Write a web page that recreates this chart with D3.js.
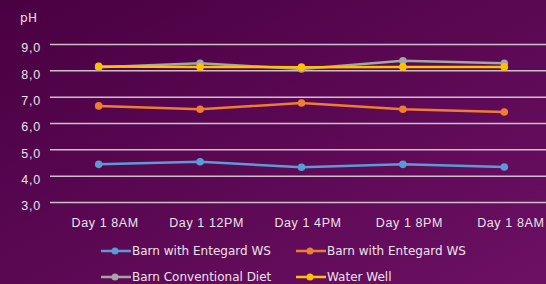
<!DOCTYPE html>
<html lang="en">
<head>
  <meta charset="UTF-8">
  <title>pH</title>
  <style>
    html, body { margin: 0; padding: 0; background: #4d0045; }
    svg { display: block; font-family: "DejaVu Sans", sans-serif; }
  </style>
</head>
<body>
  <script src="https://d3js.org/d3.v7.min.js"></script>
  <script>
    const categories = ['Day 1 8AM', 'Day 1 12PM', 'Day 1 4PM', 'Day 1 8PM', 'Day 1 8AM'];
    const seriesNames = ['Barn with Entegard WS', 'Barn with Entegard WS', 'Barn Conventional Diet', 'Water Well'];
    const blueValues = [4.43, 4.53, 4.32, 4.43, 4.33];
    const orangeValues = [6.65, 6.52, 6.76, 6.52, 6.42];
    const grayValues = [8.12, 8.27, 8.05, 8.36, 8.27];
    const yellowValues = [8.15, 8.13, 8.12, 8.13, 8.13];
    const yTicks = [3, 4, 5, 6, 7, 8, 9];
    const colors = ['#5b9bd5', '#ed7d31', '#a5a5a5', '#ffc000'];

    const width = 546, height = 284;
    const series = [blueValues, orangeValues, grayValues, yellowValues];

    const svg = d3.select('body').append('svg').attr('width', width).attr('height', height);

    // background gradient
    const grad = svg.append('defs').append('linearGradient')
      .attr('id', 'bg').attr('x1', '0').attr('y1', '0').attr('x2', '1').attr('y2', '1');
    grad.append('stop').attr('offset', '0%').attr('stop-color', '#490041');
    grad.append('stop').attr('offset', '100%').attr('stop-color', '#6c1064');
    svg.append('rect').attr('width', width).attr('height', height).attr('fill', 'url(#bg)');

    const x = d3.scalePoint().domain(d3.range(categories.length)).range([48, 555]).padding(0.5);
    const y = d3.scaleLinear().domain([3, 9]).range([202, 44]);

    // grid + y labels
    const yAxis = d3.axisLeft(y).tickValues(yTicks).tickSize(-(width - 50))
      .tickFormat(d => d3.format('.1f')(d).replace('.', ','));
    const gy = svg.append('g').attr('transform', 'translate(50,0)').call(yAxis);
    gy.select('.domain').remove();
    gy.selectAll('.tick line').attr('stroke', '#cbbfca').attr('stroke-width', 1.5);
    gy.selectAll('.tick text').attr('fill', '#ece2ea').attr('font-size', 12.5)
      .attr('letter-spacing', 0.8).attr('x', -9).attr('dy', '0.62em');

    svg.append('text').attr('x', 20).attr('y', 22).attr('fill', '#ece2ea')
      .attr('font-size', 12).attr('letter-spacing', 0.5).text('pH');

    // x labels
    const xAxis = d3.axisBottom(x).tickSize(0).tickFormat(i => categories[i]);
    const gx = svg.append('g').attr('transform', 'translate(6,215)').call(xAxis);
    gx.select('.domain').remove();
    gx.selectAll('.tick text').attr('fill', '#ece2ea').attr('font-size', 12.5)
      .attr('letter-spacing', 0.6).attr('dy', '0.71em');

    const line = d3.line().x((d, i) => x(i)).y(d => y(d));

    series.forEach((vals, s) => {
      const g = svg.append('g');
      g.append('path').datum(vals).attr('d', line)
        .attr('fill', 'none').attr('stroke', colors[s]).attr('stroke-width', 2.5);
      g.selectAll('circle').data(vals).join('circle')
        .attr('cx', (d, i) => x(i)).attr('cy', d => y(d)).attr('r', 3.8).attr('fill', colors[s]);
    });

    // legend
    const legendPos = [[101, 251], [296, 251], [101, 277], [296, 277]];
    seriesNames.forEach((name, s) => {
      const [lx, ly] = legendPos[s];
      const g = svg.append('g').attr('transform', `translate(${lx},${ly})`);
      g.append('line').attr('x1', 0).attr('x2', 30).attr('y1', 0).attr('y2', 0)
        .attr('stroke', colors[s]).attr('stroke-width', 2.5);
      g.append('circle').attr('cx', 14).attr('cy', 0).attr('r', 3.5).attr('fill', colors[s]);
      g.append('text').attr('x', 31).attr('y', 0).attr('dy', '0.35em')
        .attr('fill', '#ece2ea').attr('font-size', 12).text(name);
    });
  </script>
</body>
</html>
